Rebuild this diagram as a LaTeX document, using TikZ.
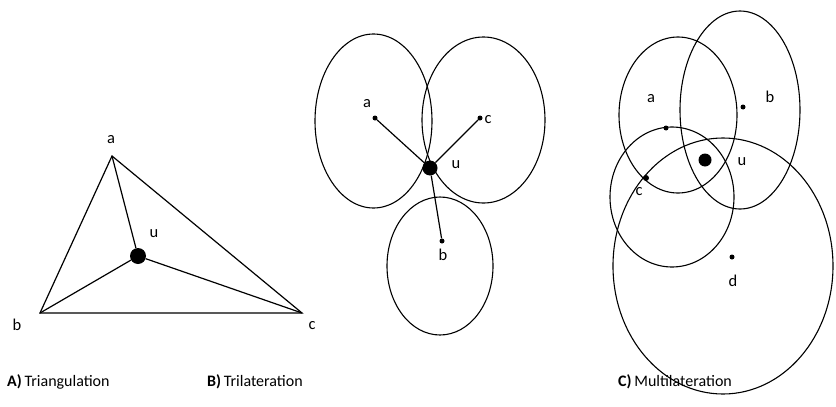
\documentclass[tikz,border=0pt]{standalone}
\usepackage{fontspec}
\setmainfont{Carlito}
\usetikzlibrary{positioning}

\begin{document}
\begin{tikzpicture}[x=1pt, y=-1pt,
    dot/.style={circle, fill=black, inner sep=0pt, minimum size=5pt},
    bigdot/.style={circle, fill=black, inner sep=0pt, minimum size=15pt},
    lbl/.style={font=\fontsize{16.5}{18}\selectfont, inner sep=1pt},
    captxt/.style={font=\fontsize{16}{18}\selectfont, anchor=west, inner sep=0pt},
    ln/.style={line width=1.2pt, black},
    rim/.style={line width=1.1pt, black}
  ]
    \useasboundingbox[fill=white] (0,0) rectangle (836,407);

    % A) Triangulation
    \coordinate (Aa) at (112,156);
    \coordinate (Ab) at (40,313);
    \coordinate (Ac) at (302,313);
    \node[bigdot, minimum size=16pt] (Au) at (138,256) {};
    \draw[ln] (Aa) -- (Ab) -- (Ac) -- cycle;
    \draw[ln] (Aa) -- (Au);
    \draw[ln] (Ab) -- (Au);
    \draw[ln] (Ac) -- (Au);
    \node[lbl] at (111,140) {a};
    \node[lbl] at (17,325) {b};
    \node[lbl] at (312,326) {c};
    \node[lbl] at (154,234) {u};

    % B) Trilateration
    \draw[rim] (373.5,121) ellipse [x radius=58.5, y radius=87];
    \draw[rim] (483.5,120) ellipse [x radius=61.5, y radius=83];
    \draw[rim] (440,266) ellipse [x radius=53, y radius=69];
    \node[bigdot] (Bu) at (430,168) {};
    \node[dot] (Ba) at (375,118) {};
    \node[dot] (Bc) at (480,118) {};
    \node[dot] (Bb) at (442,241) {};
    \draw[ln] (Bu) -- (Ba);
    \draw[ln] (Bu) -- (Bc);
    \draw[ln] (Bu) -- (Bb);
    \node[lbl] at (367,104) {a};
    \node[lbl] at (488,120) {c};
    \node[lbl] at (456,165) {u};
    \node[lbl] at (443,255) {b};

    % C) Multilateration
    \draw[rim] (678,115) ellipse [x radius=59, y radius=78];
    \draw[rim] (740,110) ellipse [x radius=60, y radius=99];
    \draw[rim] (672,197) ellipse [x radius=62, y radius=70];
    \draw[rim] (723,266) ellipse [x radius=110, y radius=128];
    \node[bigdot, minimum size=13pt] (Cu) at (705,160) {};
    \node[dot] (Ca) at (666,128) {};
    \node[dot] (Cb) at (743,107) {};
    \node[dot, minimum size=6pt] (Cc) at (646,178) {};
    \node[dot] (Cd) at (732,257) {};
    \node[lbl] at (651,99) {a};
    \node[lbl] at (770,97) {b};
    \node[lbl] at (742,162) {u};
    \node[lbl] at (639,192) {c};
    \node[lbl] at (733,281) {d};

    % captions
    \node[captxt] (capA) at (7,382) {\textbf{A)}\,Triangulation};
    \node[captxt] (capB) at (207,382) {\textbf{B)}\,Trilateration};
    \node[captxt] (capC) at (618,382) {\textbf{C)}\,Multilateration};
  \end{tikzpicture}
\end{document}
